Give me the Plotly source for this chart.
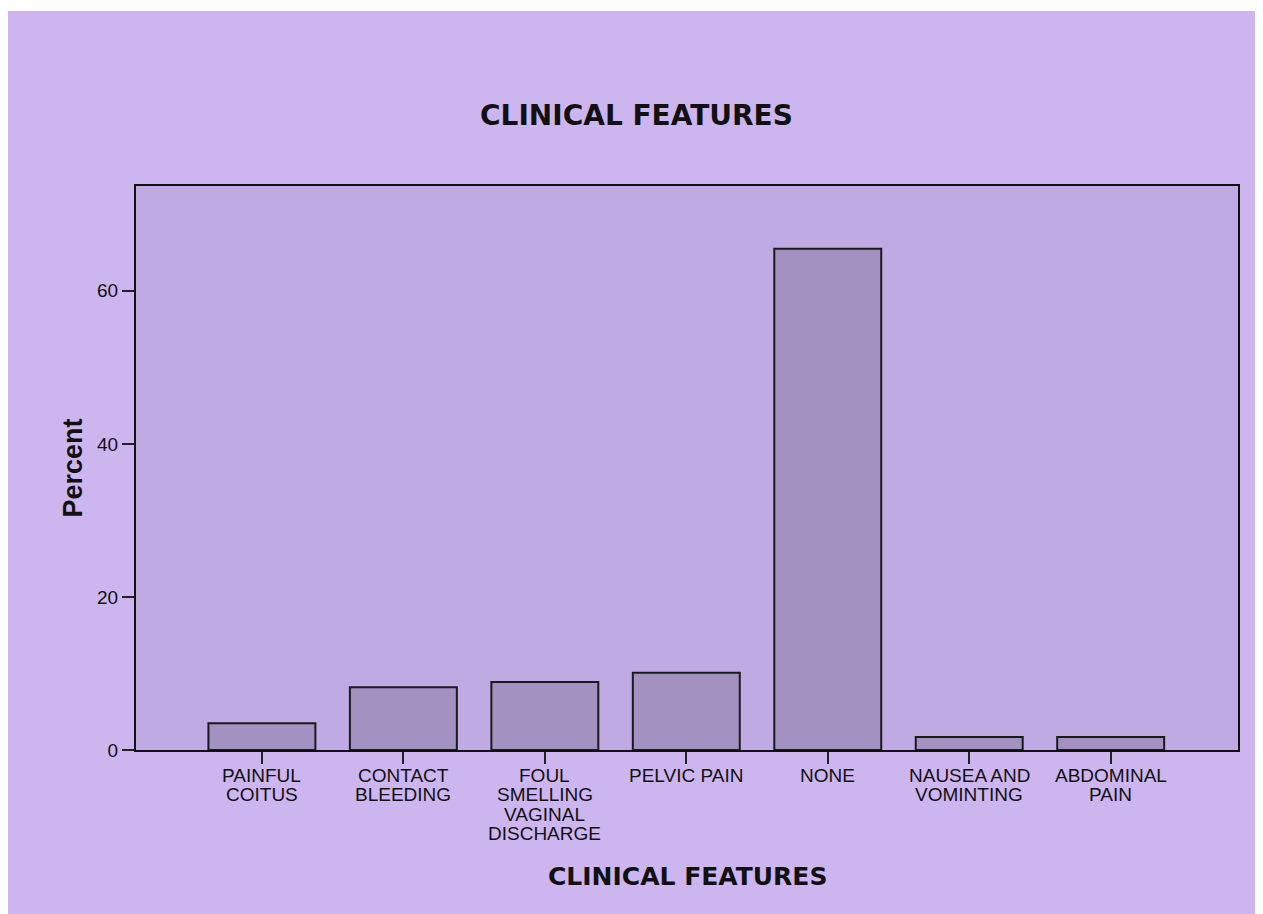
import plotly.graph_objects as go

categories = ["PAINFUL\nCOITUS", "CONTACT\nBLEEDING", "FOUL\nSMELLING\nVAGINAL\nDISCHARGE",
              "PELVIC PAIN", "NONE", "NAUSEA AND\nVOMINTING", "ABDOMINAL\nPAIN"]
percent = [3.5, 8.2, 8.9, 10.1, 65.5, 1.7, 1.7]
y_ticks = [0, 20, 40, 60]

W, H = 1263, 906
L, R, T, B = 128, 1230, 178, 742
PH = B - T

font_family = "Liberation Sans, Arial, sans-serif"
title_family = "DejaVu Sans, Liberation Sans, sans-serif"

fig = go.Figure()
fig.add_trace(go.Bar(
    x=list(range(len(categories))), y=percent, width=0.756,
    marker=dict(color="#A391C1", line=dict(color="#1a1a1a", width=2)),
))

annotations = [
    dict(text="<b>CLINICAL FEATURES</b>", xref="paper", yref="paper",
         x=(628 - L) / (R - L), y=(B - 107) / PH, showarrow=False,
         font=dict(size=28, family=title_family, color="#111"), xanchor="center", yanchor="middle"),
    dict(text="<b>CLINICAL FEATURES</b>", xref="paper", yref="paper",
         x=(679 - L) / (R - L), y=(B - 868) / PH, showarrow=False,
         font=dict(size=25, family=title_family, color="#111"), xanchor="center", yanchor="middle"),
    dict(text="<b>Percent</b>", xref="paper", yref="paper",
         x=(64.5 - L) / (R - L), y=0.5, showarrow=False, textangle=-90,
         font=dict(size=27, family=font_family, color="#111"), xanchor="center", yanchor="middle"),
]
for i, lab in enumerate(categories):
    for j, line in enumerate(lab.split("\n")):
        annotations.append(dict(
            text=line, xref="x", yref="paper", x=i, y=0, showarrow=False,
            xanchor="center", yanchor="middle", yshift=-(25 + 19.5 * j),
            font=dict(size=19, family=font_family, color="#111"),
        ))

fig.update_layout(
    width=W, height=H,
    margin=dict(l=L, r=W - R, t=T, b=H - B, pad=0),
    paper_bgcolor="#CDB5F0",
    plot_bgcolor="#C0AAE3",
    showlegend=False,
    font=dict(family=font_family, color="#111111"),
    xaxis=dict(
        range=[-0.89, 6.9], tickmode="array", tickvals=list(range(len(categories))),
        showticklabels=False, ticks="outside", ticklen=12, tickwidth=2, tickcolor="#222",
        showline=True, linecolor="#111", linewidth=2, mirror=True, showgrid=False,
        zeroline=False,
    ),
    yaxis=dict(
        range=[0, 73.7], tickmode="array", tickvals=y_ticks, ticks="outside", ticklen=12,
        tickwidth=2, tickcolor="#222", showline=True, linecolor="#111", linewidth=2,
        mirror=True, showgrid=False, zeroline=False,
        tickfont=dict(size=19, family=font_family, color="#111"),
    ),
    shapes=[dict(type="rect", xref="paper", yref="paper",
                 x0=-L / (R - L), x1=(W - L) / (R - L),
                 y0=(B - 3) / PH, y1=B / PH,
                 fillcolor="white", line=dict(width=0), layer="above")],
    annotations=annotations,
)
fig.write_html("out.html")
